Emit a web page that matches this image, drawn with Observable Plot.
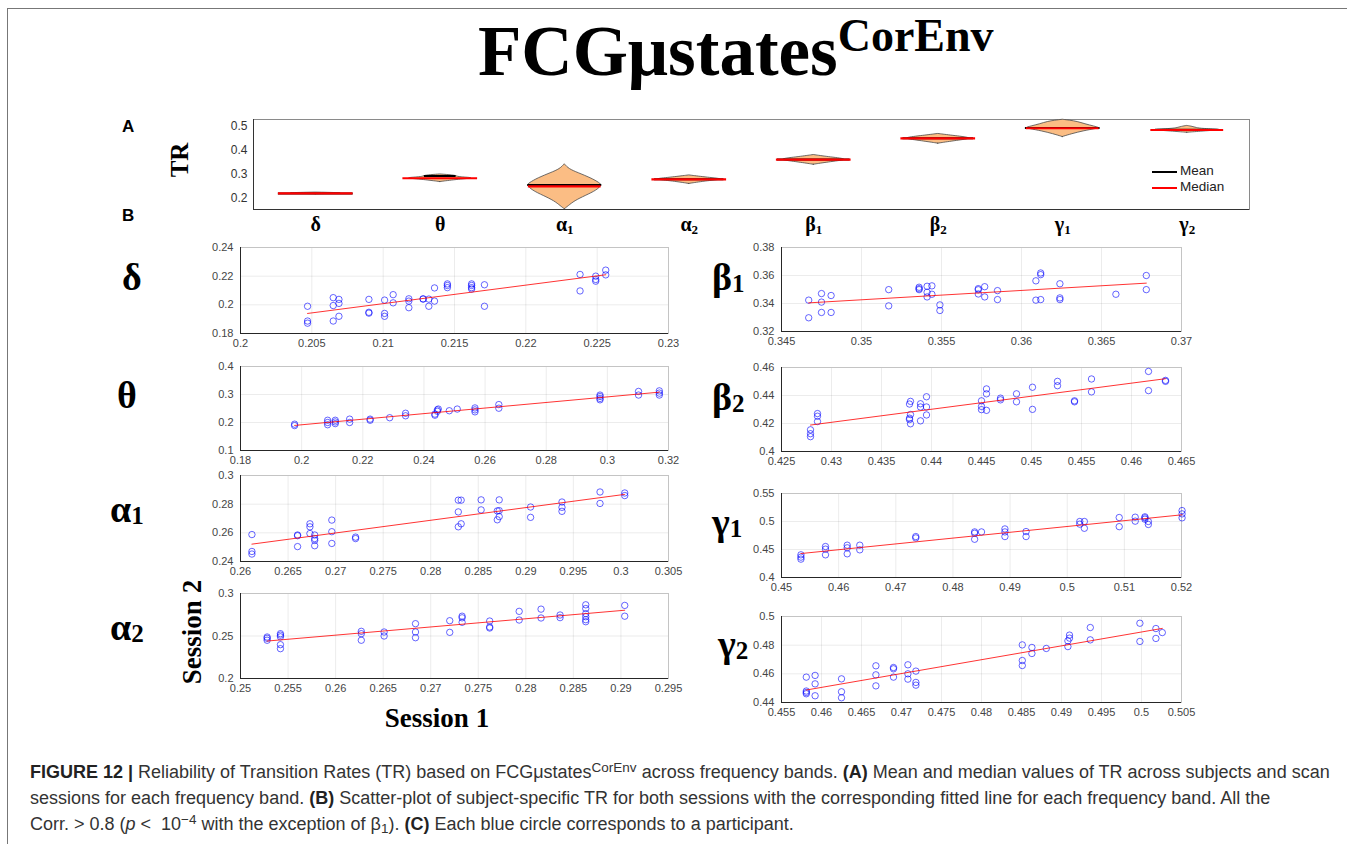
<!DOCTYPE html>
<html><head><meta charset="utf-8">
<script src="https://cdn.jsdelivr.net/npm/d3@7"></script>
<script src="https://cdn.jsdelivr.net/npm/@observablehq/plot@0.6"></script>
<style>
body{margin:0;background:#fff;}
#root{position:relative;width:1355px;height:847px;overflow:hidden;background:#fff;font-family:"Liberation Sans",Arial,sans-serif;}
.abs{position:absolute;white-space:nowrap;}
.serifb{font-family:"Liberation Serif","Times New Roman",serif;font-weight:bold;color:#000;}
.band{font-size:38px;line-height:38px;}
.band sub{font-size:0.66em;vertical-align:baseline;position:relative;top:0.08em;}
.rot{transform:translate(-50%,-50%) rotate(-90deg);}
.ctr{transform:translate(-50%,-50%);}
#caption{left:30px;top:759px;font-size:18px;line-height:26px;color:#333;}
#caption b{color:#222;}
#caption sup{font-size:0.75em;vertical-align:0.45em;line-height:0;}
#caption sub{font-size:0.75em;vertical-align:-0.2em;line-height:0;}
</style>
</head><body>
<div id="root">
  <div class="abs" style="left:7px;top:8px;width:1339px;height:835px;border-left:1.5px solid #777;border-top:1.5px solid #777;"></div>
  <div class="abs serifb" id="title" style="left:478px;top:15px;font-size:71px;line-height:72px;">FCGμstates<span style="font-size:46px;position:relative;top:-24px;">CorEnv</span></div>
  <div class="abs" style="left:122px;top:117px;font-size:17px;font-weight:bold;color:#000;">A</div>
  <div class="abs" style="left:122px;top:206px;font-size:17px;font-weight:bold;color:#000;">B</div>
  <div class="abs serifb rot" style="left:180px;top:160px;font-size:25px;">TR</div>
  <div class="abs serifb rot" style="left:192px;top:632px;font-size:27px;">Session 2</div>
  <div class="abs serifb ctr" style="left:437px;top:718px;font-size:27px;">Session 1</div>

  <div class="abs" style="left:1152px;top:171px;width:25px;height:2px;background:#000;"></div>
  <div class="abs" style="left:1180px;top:163px;font-size:13.5px;color:#222;">Mean</div>
  <div class="abs" style="left:1152px;top:187px;width:25px;height:2px;background:#f00;"></div>
  <div class="abs" style="left:1180px;top:179px;font-size:13.5px;color:#222;">Median</div>

  <div class="abs serifb band" style="left:122px;top:258px;">δ</div>
  <div class="abs serifb band" style="left:117px;top:376px;">θ</div>
  <div class="abs serifb band" style="left:110px;top:490px;">α<sub>1</sub></div>
  <div class="abs serifb band" style="left:110px;top:608px;">α<sub>2</sub></div>
  <div class="abs serifb band" style="left:712px;top:258px;">β<sub>1</sub></div>
  <div class="abs serifb band" style="left:712px;top:378px;">β<sub>2</sub></div>
  <div class="abs serifb band" style="left:712px;top:503px;">γ<sub>1</sub></div>
  <div class="abs serifb band" style="left:718px;top:625px;">γ<sub>2</sub></div>

  <div class="abs" id="caption"><b>FIGURE 12 |</b> Reliability of Transition Rates (TR) based on FCGμstates<sup>CorEnv</sup> across frequency bands. <b>(A)</b> Mean and median values of TR across subjects and scan<br>sessions for each frequency band. <b>(B)</b> Scatter-plot of subject-specific TR for both sessions with the corresponding fitted line for each frequency band. All the<br>Corr. &gt; 0.8 (<i>p</i> &lt;&nbsp; 10<sup>−4</sup> with the exception of β<sub>1</sub>). <b>(C)</b> Each blue circle corresponds to a participant.</div>
</div>
<script>
// ---------- Panel A data ----------
const bands = ["δ","θ","α1","α2","β1","β2","γ1","γ2"];
const trTicks = [0.2, 0.3, 0.4, 0.5];
const trMedian = [0.218, 0.282, 0.2475, 0.277, 0.3605, 0.450, 0.493, 0.4857];
const trMean   = [0.218, 0.291, 0.2535, 0.278, 0.361, 0.451, 0.494, 0.487];
// violin outlines: [TR value, relative half-width]
const violinDelta  = [[0.2145,0],[0.218,1],[0.2215,0]];
const violinTheta  = [[0.266,0],[0.276,0.5],[0.282,1],[0.286,0.5],[0.29,0.45],[0.294,0.35],[0.298,0]];
const violinAlpha1 = [[0.151,0],[0.163,0.1],[0.185,0.27],[0.207,0.56],[0.23,0.87],[0.252,1],[0.26,0.95],[0.282,0.71],[0.304,0.36],[0.32,0.12],[0.341,0]];
const violinAlpha2 = [[0.258,0],[0.27,0.5],[0.277,1],[0.284,0.5],[0.294,0]];
const violinBeta1  = [[0.339,0],[0.35,0.45],[0.3605,1],[0.37,0.45],[0.38,0]];
const violinBeta2  = [[0.428,0],[0.44,0.5],[0.45,1],[0.46,0.45],[0.469,0]];
const violinGamma1 = [[0.456,0],[0.468,0.25],[0.48,0.55],[0.49,0.9],[0.494,1],[0.5,0.85],[0.51,0.6],[0.52,0.4],[0.525,0.2],[0.529,0]];
const violinGamma2 = [[0.474,0],[0.48,0.5],[0.486,1],[0.49,0.4],[0.494,0.25],[0.499,0.15],[0.503,0]];
const violinShapes = [violinDelta, violinTheta, violinAlpha1, violinAlpha2, violinBeta1, violinBeta2, violinGamma1, violinGamma2];

// ---------- Panel B data: [Session 1, Session 2] ----------
const deltaPoints = [[0.2047,0.1990],[0.2047,0.1887],[0.2047,0.1872],[0.2065,0.2050],[0.2065,0.1995],[0.2065,0.1887],[0.2069,0.2038],[0.2069,0.2010],[0.2069,0.1920],[0.2090,0.2038],[0.2090,0.1948],[0.2090,0.1942],[0.2101,0.2033],[0.2101,0.1940],[0.2101,0.1920],[0.2107,0.2071],[0.2107,0.2014],[0.2118,0.2042],[0.2118,0.2026],[0.2118,0.1980],[0.2128,0.2042],[0.2128,0.2040],[0.2132,0.2040],[0.2132,0.1990],[0.2136,0.2118],[0.2136,0.2026],[0.2145,0.2146],[0.2145,0.2135],[0.2145,0.2120],[0.2162,0.2146],[0.2162,0.2135],[0.2162,0.2120],[0.2162,0.2110],[0.2171,0.2140],[0.2171,0.1990],[0.2238,0.2212],[0.2238,0.2097],[0.2249,0.2200],[0.2249,0.2177],[0.2249,0.2165],[0.2256,0.2242],[0.2256,0.2209]];
const thetaPoints = [[0.1977,0.194],[0.1977,0.189],[0.2085,0.208],[0.2085,0.200],[0.2085,0.192],[0.2110,0.208],[0.2110,0.202],[0.2110,0.196],[0.2157,0.212],[0.2157,0.200],[0.2224,0.212],[0.2224,0.208],[0.2288,0.217],[0.2340,0.233],[0.2340,0.224],[0.2436,0.230],[0.2436,0.226],[0.2444,0.245],[0.2444,0.240],[0.2447,0.248],[0.2483,0.242],[0.2509,0.248],[0.2567,0.252],[0.2567,0.245],[0.2567,0.238],[0.2645,0.264],[0.2645,0.251],[0.2976,0.298],[0.2976,0.293],[0.2976,0.286],[0.2976,0.281],[0.3102,0.311],[0.3102,0.298],[0.3170,0.313],[0.3170,0.305],[0.3170,0.298]];
const alpha1Points = [[0.2612,0.2588],[0.2612,0.2470],[0.2612,0.2452],[0.2660,0.2585],[0.2660,0.2580],[0.2660,0.2504],[0.2673,0.2663],[0.2673,0.2642],[0.2673,0.2595],[0.2678,0.2585],[0.2678,0.2560],[0.2678,0.2547],[0.2678,0.2510],[0.2696,0.2689],[0.2696,0.2608],[0.2696,0.2526],[0.2721,0.2570],[0.2721,0.2560],[0.2829,0.2828],[0.2829,0.2746],[0.2829,0.2642],[0.2832,0.2828],[0.2832,0.2663],[0.2853,0.2830],[0.2853,0.2760],[0.2870,0.2753],[0.2870,0.2691],[0.2872,0.2830],[0.2872,0.2755],[0.2872,0.2713],[0.2905,0.2780],[0.2905,0.2708],[0.2938,0.2815],[0.2938,0.2778],[0.2938,0.2750],[0.2978,0.2885],[0.2978,0.2805],[0.3004,0.2878],[0.3004,0.2860]];
const alpha2Points = [[0.2528,0.2488],[0.2528,0.2473],[0.2528,0.2450],[0.2542,0.2527],[0.2542,0.2510],[0.2542,0.2490],[0.2542,0.2398],[0.2542,0.2351],[0.2627,0.2555],[0.2627,0.2527],[0.2627,0.2450],[0.2651,0.2547],[0.2651,0.2500],[0.2684,0.2645],[0.2684,0.2547],[0.2684,0.2480],[0.2720,0.2680],[0.2720,0.2543],[0.2733,0.2733],[0.2733,0.2714],[0.2733,0.2661],[0.2762,0.2676],[0.2762,0.2606],[0.2762,0.2594],[0.2793,0.2790],[0.2793,0.2688],[0.2816,0.2816],[0.2816,0.2712],[0.2836,0.2747],[0.2836,0.2716],[0.2863,0.2867],[0.2863,0.2823],[0.2863,0.2763],[0.2863,0.2727],[0.2863,0.2692],[0.2863,0.2668],[0.2904,0.2860],[0.2904,0.2733]];
const beta1Points = [[0.3467,0.3424],[0.3467,0.3298],[0.3475,0.3471],[0.3475,0.3410],[0.3475,0.3336],[0.3481,0.3457],[0.3481,0.3336],[0.3517,0.3499],[0.3517,0.3383],[0.3536,0.3516],[0.3536,0.3506],[0.3536,0.3499],[0.3541,0.3523],[0.3541,0.3480],[0.3541,0.3447],[0.3544,0.3526],[0.3544,0.3466],[0.3549,0.3390],[0.3549,0.3350],[0.3573,0.3506],[0.3573,0.3498],[0.3573,0.3468],[0.3577,0.3520],[0.3577,0.3447],[0.3585,0.3492],[0.3585,0.3428],[0.3609,0.3562],[0.3609,0.3424],[0.3612,0.3618],[0.3612,0.3606],[0.3612,0.3428],[0.3624,0.3541],[0.3624,0.3440],[0.3624,0.3428],[0.3659,0.3466],[0.3678,0.3600],[0.3678,0.3499]];
const beta2Points = [[0.4279,0.4155],[0.4279,0.4127],[0.4279,0.4106],[0.4286,0.4271],[0.4286,0.4252],[0.4286,0.4214],[0.4378,0.4339],[0.4378,0.4238],[0.4378,0.4228],[0.4379,0.4358],[0.4379,0.4264],[0.4379,0.4198],[0.4389,0.4341],[0.4389,0.4318],[0.4389,0.4219],[0.4395,0.4391],[0.4395,0.4318],[0.4395,0.4261],[0.4450,0.4362],[0.4450,0.4322],[0.4450,0.4299],[0.4455,0.4447],[0.4455,0.4412],[0.4455,0.4294],[0.4469,0.4381],[0.4469,0.4369],[0.4485,0.4412],[0.4485,0.4355],[0.4501,0.4459],[0.4501,0.4301],[0.4526,0.4501],[0.4526,0.4470],[0.4543,0.4362],[0.4543,0.4355],[0.4560,0.4518],[0.4560,0.4426],[0.4617,0.4572],[0.4617,0.4435],[0.4634,0.4508],[0.4634,0.4501]];
const gamma1Points = [[0.4534,0.4405],[0.4534,0.4364],[0.4534,0.4328],[0.4577,0.4553],[0.4577,0.4506],[0.4577,0.4405],[0.4615,0.4577],[0.4615,0.4530],[0.4615,0.4423],[0.4637,0.4577],[0.4637,0.4494],[0.4735,0.4731],[0.4735,0.4707],[0.4838,0.4814],[0.4838,0.4790],[0.4838,0.4683],[0.4850,0.4814],[0.4891,0.4867],[0.4891,0.4814],[0.4891,0.4731],[0.4928,0.4820],[0.4928,0.4731],[0.5022,0.5000],[0.5022,0.4953],[0.5030,0.5000],[0.5030,0.4879],[0.5091,0.5071],[0.5091,0.4908],[0.5119,0.5077],[0.5119,0.5006],[0.5136,0.5083],[0.5136,0.5065],[0.5136,0.5041],[0.5142,0.5000],[0.5142,0.4947],[0.5201,0.5195],[0.5201,0.5136],[0.5201,0.5065]];
const gamma2Points = [[0.4581,0.4577],[0.4581,0.4480],[0.4581,0.4470],[0.4581,0.4461],[0.4592,0.4589],[0.4592,0.4530],[0.4592,0.4447],[0.4625,0.4565],[0.4625,0.4475],[0.4625,0.4433],[0.4668,0.4656],[0.4668,0.4593],[0.4668,0.4516],[0.4690,0.4644],[0.4690,0.4635],[0.4690,0.4577],[0.4708,0.4663],[0.4708,0.4600],[0.4708,0.4563],[0.4718,0.4619],[0.4718,0.4540],[0.4718,0.4521],[0.4851,0.4802],[0.4851,0.4693],[0.4851,0.4658],[0.4863,0.4784],[0.4863,0.4742],[0.4881,0.4777],[0.4908,0.4830],[0.4908,0.4790],[0.4910,0.4870],[0.4910,0.4849],[0.4936,0.4923],[0.4936,0.4837],[0.4998,0.4953],[0.4998,0.4826],[0.5018,0.4916],[0.5018,0.4847],[0.5026,0.4888]];

// ---------- tick values ----------
const deltaXTicks  = [0.2,0.205,0.21,0.215,0.22,0.225,0.23];
const deltaYTicks  = [0.18,0.2,0.22,0.24];
const thetaXTicks  = [0.18,0.2,0.22,0.24,0.26,0.28,0.3,0.32];
const thetaYTicks  = [0.1,0.2,0.3,0.4];
const alpha1XTicks = [0.26,0.265,0.27,0.275,0.28,0.285,0.29,0.295,0.3,0.305];
const alpha1YTicks = [0.24,0.26,0.28,0.3];
const alpha2XTicks = [0.25,0.255,0.26,0.265,0.27,0.275,0.28,0.285,0.29,0.295];
const alpha2YTicks = [0.2,0.25,0.3];
const beta1XTicks  = [0.345,0.35,0.355,0.36,0.365,0.37];
const beta1YTicks  = [0.32,0.34,0.36,0.38];
const beta2XTicks  = [0.425,0.43,0.435,0.44,0.445,0.45,0.455,0.46,0.465];
const beta2YTicks  = [0.4,0.42,0.44,0.46];
const gamma1XTicks = [0.45,0.46,0.47,0.48,0.49,0.5,0.51,0.52];
const gamma1YTicks = [0.4,0.45,0.5,0.55];
const gamma2XTicks = [0.455,0.46,0.465,0.47,0.475,0.48,0.485,0.49,0.495,0.5,0.505];
const gamma2YTicks = [0.44,0.46,0.48,0.5];

const root = document.getElementById("root");
const fmt = d3.format("~g");
const axisStyle = {fontFamily: "'Liberation Sans', Arial, sans-serif", fontSize: "11px", color: "#454545", background: "transparent", overflow: "visible"};

function place(svg, left, top) {
  svg.style.position = "absolute";
  svg.style.left = left + "px";
  svg.style.top = top + "px";
  svg.style.maxWidth = "none";
  root.appendChild(svg);
}

// ---------- Panel A ----------
function widthAt(shape, v) {
  for (let k = 0; k < shape.length - 1; k++) {
    const [a, wa] = shape[k], [b, wb] = shape[k + 1];
    if (v >= a && v <= b) return wa + (wb - wa) * (v - a) / (b - a);
  }
  return 0;
}
const H = 0.3; // half-width of the widest violin, in band units
const violinRows = violinShapes.flatMap((shape, i) => shape.map(([v, w]) => ({i, v, w})));
const statRows = bands.map((b, i) => ({
  i, mean: trMean[i], median: trMedian[i],
  wMean: widthAt(violinShapes[i], trMean[i]), wMedian: widthAt(violinShapes[i], trMedian[i])
}));
const idx = bands.map((_, i) => i);

const pA = Plot.plot({
  width: 1110, height: 135,
  marginLeft: 103, marginRight: 11, marginTop: 14, marginBottom: 31,
  style: {...axisStyle, fontSize: "12px", color: "#333"},
  x: {domain: [-0.5, 7.5], ticks: idx, tickFormat: i => bands[i], tickSize: 0, tickPadding: 7, label: null},
  y: {domain: [0.15, 0.53], ticks: trTicks, tickFormat: d3.format(".1f"), tickSize: 0, tickPadding: 6, label: null},
  marks: [
    Plot.frame({stroke: "#8a8a8a"}),
    Plot.areaX(violinRows, {y: "v", x1: d => d.i - d.w * H, x2: d => d.i + d.w * H, z: "i", fill: "#fbbd84", stroke: "#4a4a4a", strokeWidth: 0.8, curve: "basis"}),
    Plot.ruleY(statRows, {y: "mean", x1: d => d.i - d.wMean * H, x2: d => d.i + d.wMean * H, stroke: "#000", strokeWidth: 2}),
    Plot.ruleY(statRows, {y: "median", x1: d => d.i - d.wMedian * H, x2: d => d.i + d.wMedian * H, stroke: "#ff0000", strokeWidth: 2.2}),
    Plot.ruleX([-0.5], {stroke: "#333"}),
    Plot.ruleY([0.15], {stroke: "#333"})
  ]
});
pA.querySelectorAll("text").forEach(t => {
  const s = t.textContent;
  if (bands.includes(s)) {
    t.setAttribute("font-family", "'Liberation Serif', 'Times New Roman', serif");
    t.setAttribute("font-weight", "bold");
    t.setAttribute("font-size", "20px");
    t.style.fill = "#000";
    if (s.length > 1) {
      t.textContent = s[0];
      const ts = document.createElementNS("http://www.w3.org/2000/svg", "tspan");
      ts.setAttribute("font-size", "13px");
      ts.setAttribute("dy", "3");
      ts.textContent = s.slice(1);
      t.appendChild(ts);
    }
  }
});
place(pA, 150, 105);

// ---------- Panel B ----------
function scatter(points, xTicks, yTicks, L, T, R, B) {
  const mL = 42, mR = 22, mT = 6, mB = 22;
  const data = points.map(([s1, s2]) => ({s1, s2}));
  const xd = [xTicks[0], xTicks[xTicks.length - 1]];
  const yd = [yTicks[0], yTicks[yTicks.length - 1]];
  const p = Plot.plot({
    width: R - L + mL + mR, height: B - T + mT + mB,
    marginLeft: mL, marginRight: mR, marginTop: mT, marginBottom: mB,
    style: axisStyle,
    x: {domain: xd, ticks: xTicks, tickFormat: fmt, tickSize: 0, tickPadding: 6, grid: true, label: null},
    y: {domain: yd, ticks: yTicks, tickFormat: fmt, tickSize: 0, tickPadding: 7, grid: true, label: null},
    marks: [
      Plot.frame({stroke: "#c4c4c4"}),
      Plot.ruleX([xd[0]], {stroke: "#262626"}),
      Plot.ruleY([yd[0]], {stroke: "#262626"}),
      Plot.dot(data, {x: "s1", y: "s2", r: 3.2, stroke: "#0000ff", strokeOpacity: 0.6, strokeWidth: 1, fill: "none"}),
      Plot.linearRegressionY(data, {x: "s1", y: "s2", stroke: "#ff0000", strokeOpacity: 0.8, strokeWidth: 1, ci: 0})
    ]
  });
  place(p, L - mL, T - mT);
}
scatter(deltaPoints,  deltaXTicks,  deltaYTicks,  240, 247, 668, 333);
scatter(thetaPoints,  thetaXTicks,  thetaYTicks,  240, 366, 668, 450);
scatter(alpha1Points, alpha1XTicks, alpha1YTicks, 240, 475, 668, 561);
scatter(alpha2Points, alpha2XTicks, alpha2YTicks, 240, 593, 668, 678);
scatter(beta1Points,  beta1XTicks,  beta1YTicks,  781, 247, 1181, 331);
scatter(beta2Points,  beta2XTicks,  beta2YTicks,  781, 367, 1181, 451);
scatter(gamma1Points, gamma1XTicks, gamma1YTicks, 781, 493, 1181, 577);
scatter(gamma2Points, gamma2XTicks, gamma2YTicks, 781, 616, 1181, 702);
</script>
</body></html>
